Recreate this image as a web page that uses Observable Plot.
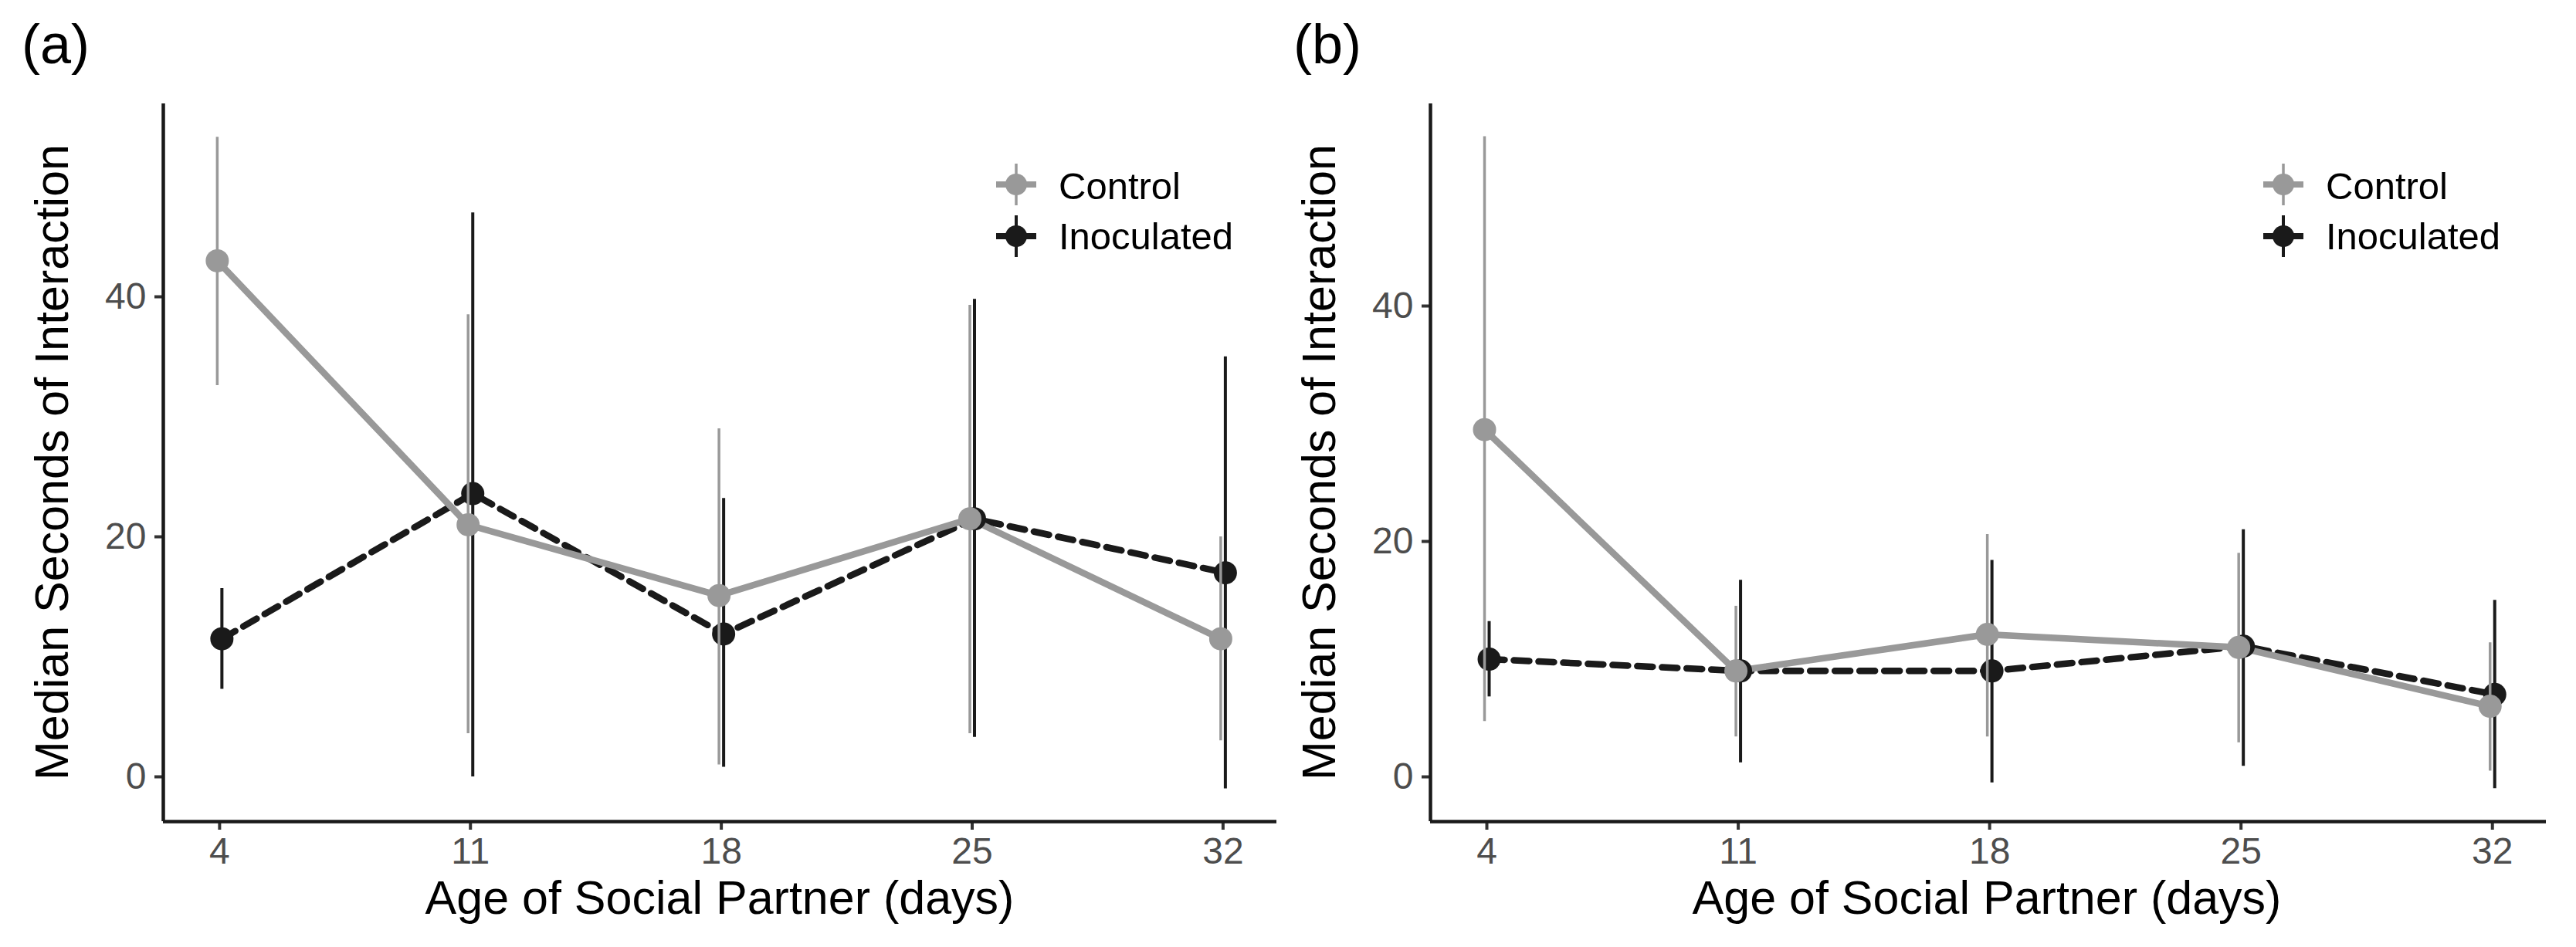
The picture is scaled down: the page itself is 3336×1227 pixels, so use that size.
<!DOCTYPE html>
<html>
<head>
<meta charset="utf-8">
<script src="https://cdn.jsdelivr.net/npm/d3@7"></script>
<script src="https://cdn.jsdelivr.net/npm/@observablehq/plot@0.6"></script>
<style>
  body { margin: 0; background: #fff; }
  #wrap { position: relative; width: 3336px; height: 1227px; background: #fff;
          font-family: "Liberation Sans", Arial, Helvetica, sans-serif; }
  #wrap > svg { position: absolute; top: 0; }
</style>
</head>
<body>
<div id="wrap"></div>
<script>
// ---------- data ----------
const ages = [4, 11, 18, 25, 32];
const groups = ["Control", "Inoculated"];
const ageTicks = [4, 11, 18, 25, 32];
const yTicks = [0, 20, 40];
const panelLabels = ["(a)", "(b)"];
const xTitle = "Age of Social Partner (days)";
const yTitle = "Median Seconds of Interaction";

// Panel (a)
const aControlMedian = [43.0, 21.0, 15.1, 21.5, 11.5];
const aControlLow    = [32.6, 3.6, 1.0, 3.6, 3.0];
const aControlHigh   = [53.3, 38.5, 29.0, 39.3, 20.0];
const aInocMedian    = [11.5, 23.6, 11.9, 21.5, 17.0];
const aInocLow       = [7.3, 0.0, 0.8, 3.3, -1.0];
const aInocHigh      = [15.7, 47.0, 23.2, 39.8, 35.0];

// Panel (b)
const bControlMedian = [29.5, 9.0, 12.1, 11.0, 6.0];
const bControlLow    = [4.7, 3.4, 3.4, 2.9, 0.5];
const bControlHigh   = [54.4, 14.5, 20.6, 19.0, 11.4];
const bInocMedian    = [10.0, 9.0, 9.0, 11.1, 7.0];
const bInocLow       = [6.8, 1.2, -0.5, 0.9, -1.0];
const bInocHigh      = [13.2, 16.7, 18.4, 21.0, 15.0];

// ---------- build tables ----------
function rowsFor(group, med, lo, hi) {
  return ages.map((age, i) => ({ age, group, median: med[i], low: lo[i], high: hi[i] }));
}
const panelA = {
  control: rowsFor("Control", aControlMedian, aControlLow, aControlHigh),
  inoc: rowsFor("Inoculated", aInocMedian, aInocLow, aInocHigh),
  yDomain: [-3.73, 56.08]
};
const panelB = {
  control: rowsFor("Control", bControlMedian, bControlLow, bControlHigh),
  inoc: rowsFor("Inoculated", bInocMedian, bInocLow, bInocHigh),
  yDomain: [-3.80, 57.18]
};

const xDomain = [2.43, 33.5];
const gray = "#999999";
const dark = "#1a1a1a";
const FONT = "Liberation Sans, Arial, Helvetica, sans-serif";

function panel(p, marginRight) {
  return Plot.plot({
    width: 1668,
    height: 1227,
    marginLeft: 211,
    marginRight,
    marginTop: 134,
    marginBottom: 163,
    style: { background: "transparent", fontFamily: FONT, fontSize: "48px", overflow: "visible" },
    x: { domain: xDomain, label: null },
    y: { domain: p.yDomain, label: null },
    marks: [
      Plot.axisX({ ticks: ageTicks, tickSize: 11, tickPadding: 9, tickFormat: d => String(d),
                   fontSize: 48, fill: "#4d4d4d", stroke: "#333333", strokeWidth: 4, label: null }),
      Plot.axisY({ ticks: yTicks, tickSize: 11, tickPadding: 11, tickFormat: d => String(d),
                   fontSize: 48, fill: "#4d4d4d", stroke: "#333333", strokeWidth: 4, label: null }),
      Plot.ruleX([xDomain[0]], { stroke: dark, strokeWidth: 4.5 }),
      Plot.ruleY([p.yDomain[0]], { stroke: dark, strokeWidth: 4.5 }),
      Plot.line(p.inoc, { x: "age", y: "median", stroke: dark, strokeWidth: 8.5,
                          strokeDasharray: "20,12", dx: 3 }),
      Plot.line(p.control, { x: "age", y: "median", stroke: gray, strokeWidth: 8.5, dx: -3 }),
      Plot.ruleX(p.inoc, { x: "age", y1: "low", y2: "high", stroke: dark, strokeWidth: 4, dx: 3 }),
      Plot.dot(p.inoc, { x: "age", y: "median", r: 15, fill: dark, stroke: null, dx: 3 }),
      Plot.ruleX(p.control, { x: "age", y1: "low", y2: "high", stroke: gray, strokeWidth: 3.5, dx: -3 }),
      Plot.dot(p.control, { x: "age", y: "median", r: 15, fill: gray, stroke: null, dx: -3 })
    ]
  });
}

const wrap = document.getElementById("wrap");
const plotA = panel(panelA, 15);
plotA.style.left = "0px";
wrap.appendChild(plotA);
const plotB = panel(panelB, 12);
plotB.style.left = "1641px";
wrap.appendChild(plotB);

// ---------- overlay: panel labels, axis titles, legends ----------
const overlay = d3.create("svg")
  .attr("width", 3336).attr("height", 1227)
  .attr("viewBox", "0 0 3336 1227")
  .style("left", "0px")
  .style("font-family", FONT);

const offsets = [0, 1641];
offsets.forEach((off, k) => {
  overlay.append("text").attr("x", 28 + off + (k ? 6 : 0)).attr("y", 82)
    .attr("font-size", 72).attr("fill", "#000").text(panelLabels[k]);
  overlay.append("text")
    .attr("transform", `translate(${88 + off},599) rotate(-90)`)
    .attr("text-anchor", "middle").attr("font-size", 61).attr("fill", "#000")
    .text(yTitle);
  overlay.append("text").attr("x", 932 + off).attr("y", 1184)
    .attr("text-anchor", "middle").attr("font-size", 61).attr("fill", "#000")
    .text(xTitle);

  // legend
  const items = [
    { name: groups[0], color: gray, dash: null, bar: 3.5, cy: 239, base: 258 },
    { name: groups[1], color: dark, dash: "20,12", bar: 4, cy: 306, base: 323 }
  ];
  const cx = 1316 + off;
  items.forEach(it => {
    const g = overlay.append("g");
    g.append("line").attr("x1", cx - 26).attr("x2", cx + 26).attr("y1", it.cy).attr("y2", it.cy)
      .attr("stroke", it.color).attr("stroke-width", 8)
      .attr("stroke-dasharray", it.dash);
    g.append("line").attr("x1", cx).attr("x2", cx).attr("y1", it.cy - 27).attr("y2", it.cy + 27)
      .attr("stroke", it.color).attr("stroke-width", it.bar);
    g.append("circle").attr("cx", cx).attr("cy", it.cy).attr("r", 14).attr("fill", it.color);
    g.append("text").attr("x", cx + 55).attr("y", it.base)
      .attr("font-size", 49).attr("fill", "#000").text(it.name);
  });
});
wrap.appendChild(overlay.node());
</script>
</body>
</html>
